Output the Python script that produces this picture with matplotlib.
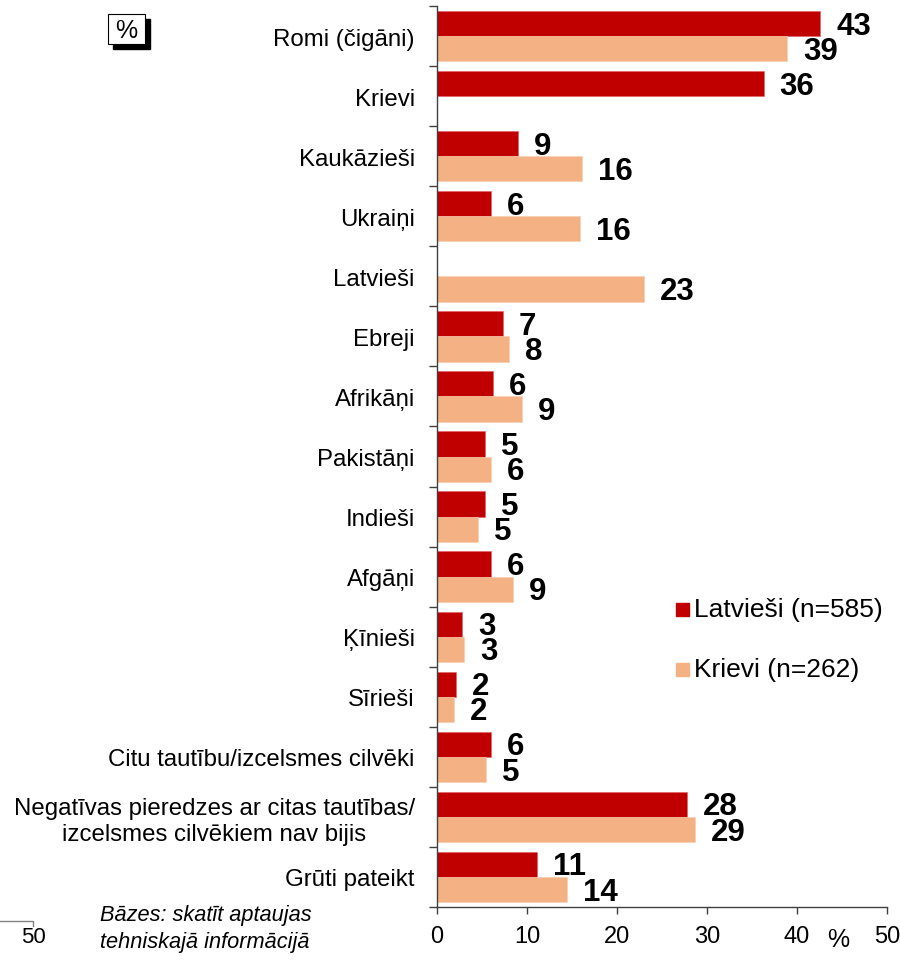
import matplotlib.pyplot as plt
from matplotlib.patches import Rectangle
from matplotlib.lines import Line2D
import numpy as np

# ---------------------------
# Dati
# ---------------------------
categories = ['Romi (čigāni)', 'Krievi', 'Kaukāzieši', 'Ukraiņi', 'Latvieši',
              'Ebreji', 'Afrikāņi', 'Pakistāņi', 'Indieši', 'Afgāņi',
              'Ķīnieši', 'Sīrieši', 'Citu tautību/izcelsmes cilvēki',
              'Negatīvas pieredzes ar citas tautības/\nizcelsmes cilvēkiem nav bijis',
              'Grūti pateikt']
latviesi = [42.6, 36.3, 9.0, 6.0, np.nan, 7.3, 6.2, 5.3, 5.3, 6.0, 2.8, 2.1, 6.0, 27.8, 11.1]
krievi = [38.9, np.nan, 16.1, 15.9, 23.0, 8.0, 9.4, 6.0, 4.5, 8.4, 3.0, 1.9, 5.4, 28.7, 14.4]
latviesi_lbl = ['43', '36', '9', '6', '', '7', '6', '5', '5', '6', '3', '2', '6', '28', '11']
krievi_lbl = ['39', '', '16', '16', '23', '8', '9', '6', '5', '9', '3', '2', '5', '29', '14']
series_names = ['Latvieši (n=585)', 'Krievi (n=262)']
x_ticks = [0, 10, 20, 30, 40, 50]

RED = '#C00000'
PEACH = '#F4B183'
AXC = '#404040'

plt.rcParams['font.family'] = ['Liberation Sans', 'DejaVu Sans']

fig = plt.figure(figsize=(9, 9.62), dpi=100)
ax = fig.add_axes([0.4856, 0.0561, 0.5, 0.9366])

y = np.arange(len(categories))
h = 0.42
ax.barh(y - h / 2, latviesi, height=h, color=RED, edgecolor='#E06060', linewidth=0.4)
ax.barh(y + h / 2, krievi, height=h, color=PEACH, edgecolor='#F8CBAD', linewidth=0.4)

# vērtību uzraksti
for i in range(len(categories)):
    for val, lbl, off in [(latviesi[i], latviesi_lbl[i], -h / 2), (krievi[i], krievi_lbl[i], h / 2)]:
        if lbl:
            ax.annotate(lbl, (val, y[i] + off), xytext=(11.5, -1.5), textcoords='offset points',
                        ha='left', va='center', fontsize=22.5, fontweight='bold', color='black')

ax.set_xlim(0, 50)
ax.set_ylim(len(categories) - 0.5, -0.5)
ax.set_xticks(x_ticks)
ax.set_xticklabels([str(v) for v in x_ticks], fontsize=17)
ax.set_yticks(np.arange(len(categories) + 1) - 0.5)
ax.set_yticklabels([])
ax.set_yticks(y, minor=True)
ax.set_yticklabels(categories, minor=True, fontsize=17.3, multialignment='center')
ax.tick_params(axis='y', which='minor', length=0, pad=16)
ax.tick_params(axis='y', which='major', length=6, color=AXC, width=1)
ax.tick_params(axis='x', length=5, color=AXC, width=1, pad=8)

for s in ['top', 'right']:
    ax.spines[s].set_visible(False)
for s in ['left', 'bottom']:
    ax.spines[s].set_color(AXC)
    ax.spines[s].set_linewidth(1)

# x ass "%"
fig.text(838 / 900, 1 - 940 / 962, '%', fontsize=18, ha='center', va='center')

# leģenda
for k, (name, col) in enumerate(zip(series_names, [RED, PEACH])):
    yy = 610 + k * 60
    fig.patches.append(Rectangle((676 / 900, 1 - (yy + 7) / 962), 13 / 900, 13 / 962,
                                 transform=fig.transFigure, color=col))
    fig.text(694 / 900, 1 - yy / 962, name, fontsize=19, ha='left', va='center')

# "%" kastīte
fig.patches.append(Rectangle((113 / 900, 1 - 50 / 962), 37 / 900, 30 / 962,
                             transform=fig.transFigure, color='black'))
fig.patches.append(Rectangle((108 / 900, 1 - 45 / 962), 37 / 900, 30 / 962,
                             transform=fig.transFigure, facecolor='white', edgecolor='black', lw=0.8))
fig.text(126.5 / 900, 1 - 31 / 962, '%', fontsize=18, ha='center', va='center')

# apakšējais kreisais fragments
fig.lines.append(Line2D([0, 33 / 900, 33 / 900], [1 - 922 / 962, 1 - 922 / 962, 1 - 927 / 962],
                        transform=fig.transFigure, color='#808080', lw=1))
fig.text(33 / 900, 1 - 938 / 962, '50', fontsize=16, ha='center', va='center')

# piezīme
fig.text(100 / 900, 1 - 929 / 962, 'Bāzes: skatīt aptaujas\ntehniskajā informācijā',
         fontsize=15.7, style='italic', ha='left', va='center', linespacing=1.35)

fig.savefig('out.png', dpi=100)
